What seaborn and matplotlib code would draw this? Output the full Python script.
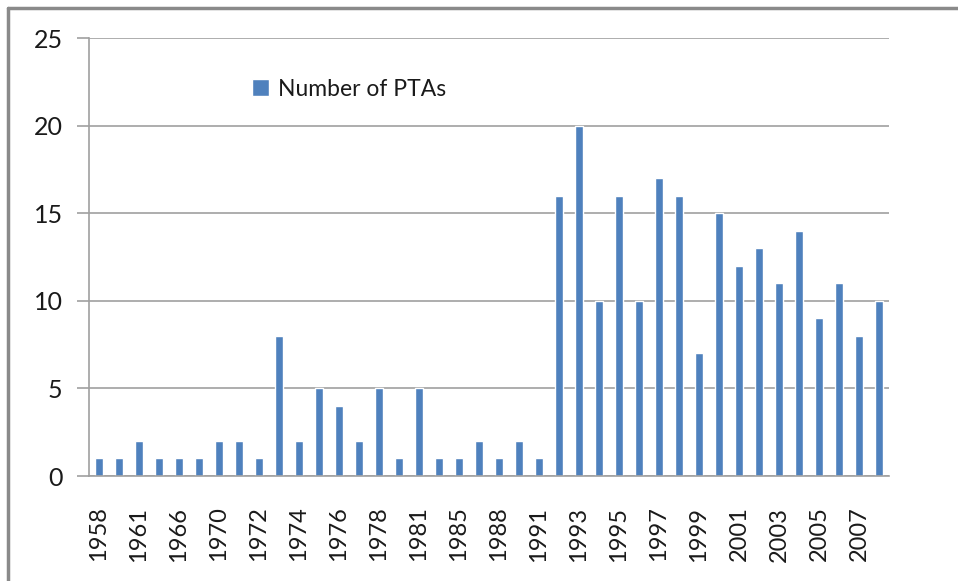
import matplotlib
matplotlib.use("Agg")
import matplotlib.pyplot as plt
import seaborn as sns
from matplotlib.lines import Line2D

years = ["1958", "1960", "1961", "1963", "1966", "1968", "1970", "1971",
         "1972", "1973", "1974", "1975", "1976", "1977", "1978", "1980",
         "1981", "1983", "1985", "1986", "1988", "1990", "1991", "1992",
         "1993", "1994", "1995", "1996", "1997", "1998", "1999", "2000",
         "2001", "2002", "2003", "2004", "2005", "2006", "2007", "2008"]
counts = [1, 1, 2, 1, 1, 1, 2, 2, 1, 8, 2, 5, 4, 2, 5, 1, 5, 1, 1, 2,
          1, 2, 1, 16, 20, 10, 16, 10, 17, 16, 7, 15, 12, 13, 11, 14, 9, 11, 8, 10]
y_ticks = [0, 5, 10, 15, 20, 25]

sns.set_style("white")
plt.rcParams['font.family'] = ['Lato', 'DejaVu Sans']

fig = plt.figure(figsize=(9.58, 5.81), dpi=100)
ax = fig.add_axes([89/958, 1 - 476/581, 800/958, 438/581])

sns.barplot(x=years, y=counts, color="#4F81BD", width=0.4, saturation=1,
            label="Number of PTAs", ax=ax)

grid_c = "#a0a0a0"
ax.set_ylim(0, 25)
ax.set_xlim(-0.5, len(years) - 0.5)
ax.set_yticks(y_ticks)
ax.yaxis.grid(True, color=grid_c, linewidth=1.2)
ax.set_axisbelow(True)
for s in ["top", "right"]:
    ax.spines[s].set_visible(False)
for s in ["left", "bottom"]:
    ax.spines[s].set_color(grid_c)
    ax.spines[s].set_linewidth(1.2)

ax.set_xticks(range(0, len(years), 2))
ax.set_xticklabels(years[::2], rotation=90)
ax.set_xticks([i - 0.5 for i in range(len(years) + 1)], minor=True)
ax.tick_params(axis="x", which="major", length=0, pad=22, labelsize=17, labelcolor="#1a1a1a")
ax.tick_params(axis="x", which="minor", length=10, width=1.2, color=grid_c, direction="out")
ax.tick_params(axis="y", length=9, width=1.2, color=grid_c, pad=10, labelsize=18, labelcolor="#1a1a1a")
ax.tick_params(axis="both", bottom=True, left=True)
ax.set_xlabel("")
ax.set_ylabel("")

ax.legend(loc="center left", bbox_to_anchor=((252 - 89) / 800, (476 - 89) / 438),
          frameon=False, handlelength=0.75, handleheight=0.75, handletextpad=0.4,
          borderpad=0, borderaxespad=0, fontsize=16.5, labelcolor="#1a1a1a")

# outer chart frame (left and top edges visible in the screenshot)
fig.add_artist(Line2D([8/958, 8/958], [0, 1 - 8/581], color="#8a8a8a", linewidth=2.5))
fig.add_artist(Line2D([8/958, 1], [1 - 8/581, 1 - 8/581], color="#8a8a8a", linewidth=2.5))

fig.savefig("out.png", dpi=100)
